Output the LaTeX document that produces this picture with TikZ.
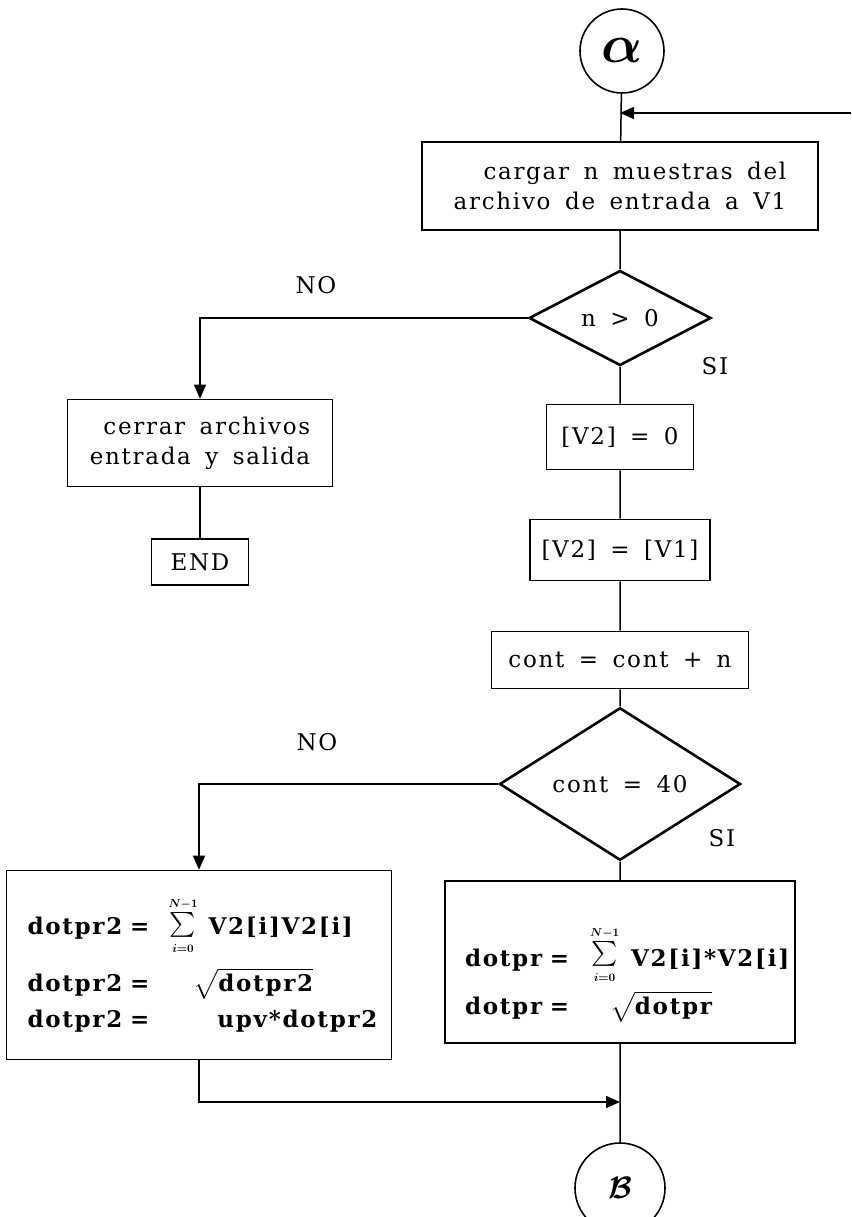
\RequirePackage{fix-cm}
\documentclass[tikz,border=0pt]{standalone}
\usepackage{amsmath}
\usepackage{fontspec}
\setmainfont{DejaVu Serif}
\newfontfamily\flowfont[LetterSpace=7.5, WordSpace=1.6]{DejaVu Serif}
\usetikzlibrary{arrows.meta,shapes.geometric}
\tikzset{
  box/.style={draw, line width=1.6pt, align=center, inner sep=0pt, font=\flowfont\fontsize{23}{30}\selectfont},
  decision/.style={draw, diamond, line width=2.6pt, inner sep=0pt, font=\flowfont\fontsize{23}{30}\selectfont},
  calcbox/.style={box, align=left, font=\flowfont\bfseries\boldmath\fontsize{23}{30}\selectfont},
  term/.style={draw, circle, line width=1.6pt, inner sep=0pt},
  tag/.style={font=\flowfont\fontsize{23}{30}\selectfont},
  line/.style={line width=1.5pt},
  arrow/.style={line, -{Triangle[length=14pt, width=12pt]}}
}
\newcommand{\sumN}{$\sum\limits_{\scriptscriptstyle i=0}^{\scriptscriptstyle N-1}$}

\begin{document}
\begin{tikzpicture}[x=1pt, y=-1pt]
    \clip (0,0) rectangle (851,1217);
    % Connectors and terminals
    \node[term, minimum size=84, font=\boldmath\fontsize{54}{54}\selectfont] (alpha) at (622,51) {$\alpha$};
    \node[term, minimum size=90, font=\boldmath\fontsize{31}{31}\selectfont] (beta) at (620,1188) {$\mathcal{B}$};
    \coordinate (feed) at (851,113);
    \coordinate (entry) at (620,113);
    \coordinate (merge) at (620,1102);

    % Main column
    \node[box, minimum width=396, minimum height=88, align=right] (carga) at (620,186)
      {cargar n muestras del\\archivo de entrada a V1};
    \node[decision, minimum width=182, minimum height=73] (test1) at (620,318) {n > 0};
    \node[box, minimum width=147, minimum height=65] (zero) at (620,437) {[V2] = 0};
    \node[box, minimum width=180, minimum height=61] (copy) at (620,550) {[V2] = [V1]};
    \node[box, minimum width=257, minimum height=57] (count) at (620,660) {cont = cont + n};
    \node[decision, minimum width=241, minimum height=89] (test2) at (620,784) {cont = 40};
    \node[calcbox, minimum width=350, minimum height=162, text width=310] (norm) at (620,962)
      {\mbox{\rule{0pt}{64pt}\makebox[125pt][l]{dotpr =}\raisebox{6pt}{\sumN}\hspace{12pt}V2[i]*V2[i]}\\[6pt]
       \mbox{\makebox[145pt][l]{dotpr =}$\sqrt{\mbox{dotpr}}$}};

    % Left branches
    \node[box, minimum width=265, minimum height=87, align=right] (close) at (200,443)
      {cerrar archivos\\entrada y salida};
    \node[box, minimum width=97, minimum height=46] (fin) at (200,562) {END};
    \node[calcbox, minimum width=385, minimum height=189, text width=343] (acum) at (199,965)
      {\mbox{\makebox[141pt][l]{dotpr2 =}\raisebox{3pt}{\sumN}\hspace{11pt}V2[i]V2[i]}\\[12pt]
       \mbox{\makebox[166pt][l]{dotpr2 =}$\sqrt{\mbox{dotpr2}}$}\\[6pt]
       \mbox{\makebox[190pt][l]{dotpr2 =}upv*dotpr2}};

    % Branch labels
    \node[tag] (no1) at (316,285) {NO};
    \node[tag] (si1) at (715,366) {SI};
    \node[tag] (no2) at (317,742) {NO};
    \node[tag] (si2) at (722,838) {SI};

    % Flow lines
    \draw[arrow] (feed) -- (entry);
    \draw[line] (alpha) -- (carga) -- (test1) -- (zero) -- (copy) -- (count) -- (test2) -- (norm) -- (beta);
    \draw[arrow] (test1.west) -| (close.north);
    \draw[line] (close) -- (fin);
    \draw[arrow] (test2.west) -| (acum.north);
    \draw[arrow] (acum.south) |- (merge);
  \end{tikzpicture}
\end{document}
